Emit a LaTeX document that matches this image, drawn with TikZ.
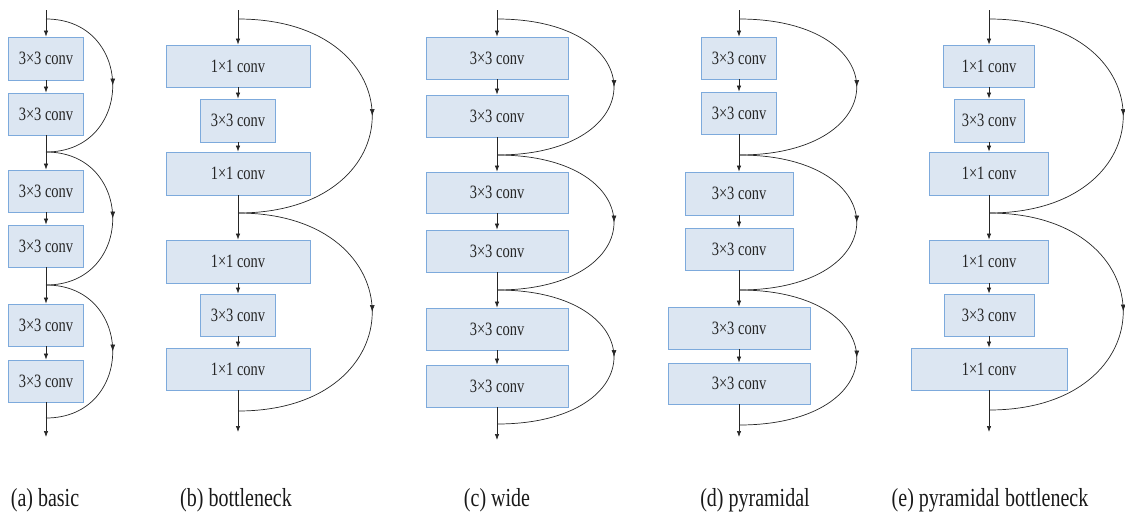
\documentclass[tikz,border=0pt]{standalone}
\usepackage{fontspec}
\setmainfont{Liberation Serif}
\usetikzlibrary{arrows.meta,decorations.markings}
\definecolor{boxfill}{RGB}{220,230,242}
\definecolor{boxline}{RGB}{125,170,220}
\newcommand\boxlabel[1]{\scalebox{1}[1.3]{#1}}
\newcommand\caplabel[1]{\scalebox{1}[1.3]{#1}}
\begin{document}
\begin{tikzpicture}[x=1pt,y=-1pt,
  cbox/.style={draw=boxline, fill=boxfill, line width=0.8pt, inner sep=0pt, font=\fontsize{14.5}{15}\selectfont, text=black!85},
  flow/.style={draw=black!85, line width=0.7pt},
  arr/.style={flow, -{Latex[length=6pt,width=4.5pt]}},
  skipline/.style={draw=black!85, line width=0.7pt, postaction={decorate},
    decoration={markings, mark=at position 0.5 with {\arrow{Latex[length=7pt,width=5pt]}}}},
  captext/.style={font=\fontsize{20}{20}\selectfont, text=black!90, inner sep=0pt}
]
\useasboundingbox (0,0) rectangle (1125,515);

% ---------- (a) basic ----------
\coordinate (atop) at (46,10);
\coordinate (ac0) at (46,19);
\coordinate (ac1) at (46,152);
\coordinate (ac2) at (46,285);
\coordinate (ac3) at (46,418);
\coordinate (aend) at (46,437);
\node[cbox, minimum width=75, minimum height=43] (a1) at (46,58.5) {\boxlabel{3×3 conv}};
\node[cbox, minimum width=75, minimum height=42] (a2) at (46,114) {\boxlabel{3×3 conv}};
\node[cbox, minimum width=75, minimum height=42] (a3) at (46,191) {\boxlabel{3×3 conv}};
\node[cbox, minimum width=75, minimum height=42] (a4) at (46,246) {\boxlabel{3×3 conv}};
\node[cbox, minimum width=75, minimum height=42] (a5) at (46,325) {\boxlabel{3×3 conv}};
\node[cbox, minimum width=75, minimum height=42] (a6) at (46,381) {\boxlabel{3×3 conv}};
\draw[arr] (atop) -- (a1);
\draw[arr] (a1) -- (a2);
\draw[flow] (a2) -- (ac1);
\draw[arr] (ac1) -- (a3);
\draw[arr] (a3) -- (a4);
\draw[flow] (a4) -- (ac2);
\draw[arr] (ac2) -- (a5);
\draw[arr] (a5) -- (a6);
\draw[flow] (a6) -- (ac3);
\draw[arr] (ac3) -- (aend);
\draw[skipline] (ac0) .. controls +(89,0) and +(89,0) .. (ac1);
\draw[skipline] (ac1) .. controls +(89,0) and +(89,0) .. (ac2);
\draw[skipline] (ac2) .. controls +(89,0) and +(89,0) .. (ac3);
\node[captext] (acap) at (45,500) {\caplabel{(a) basic}};

% ---------- (b) bottleneck ----------
\coordinate (btop) at (238,10);
\coordinate (bc0) at (238,19);
\coordinate (bc1) at (238,213);
\coordinate (bc2) at (238,411);
\coordinate (bend) at (238,432);
\node[cbox, minimum width=144, minimum height=42] (b1) at (238,66) {\boxlabel{1×1 conv}};
\node[cbox, minimum width=75, minimum height=43] (b2) at (238,120.5) {\boxlabel{3×3 conv}};
\node[cbox, minimum width=144, minimum height=43] (b3) at (238,173.5) {\boxlabel{1×1 conv}};
\node[cbox, minimum width=144, minimum height=43] (b4) at (238,261.5) {\boxlabel{1×1 conv}};
\node[cbox, minimum width=75, minimum height=42] (b5) at (238,315) {\boxlabel{3×3 conv}};
\node[cbox, minimum width=144, minimum height=42] (b6) at (238,369) {\boxlabel{1×1 conv}};
\draw[arr] (btop) -- (b1);
\draw[arr] (b1) -- (b2);
\draw[arr] (b2) -- (b3);
\draw[flow] (b3) -- (bc1);
\draw[arr] (bc1) -- (b4);
\draw[arr] (b4) -- (b5);
\draw[arr] (b5) -- (b6);
\draw[flow] (b6) -- (bc2);
\draw[arr] (bc2) -- (bend);
\draw[skipline] (bc0) .. controls +(179,0) and +(179,0) .. (bc1);
\draw[skipline] (bc1) .. controls +(179,0) and +(179,0) .. (bc2);
\node[captext] (bcap) at (236,500) {\caplabel{(b) bottleneck}};

% ---------- (c) wide ----------
\coordinate (ctop) at (497,10);
\coordinate (cc0) at (497,19);
\coordinate (cc1) at (497,155);
\coordinate (cc2) at (497,290);
\coordinate (cc3) at (497,424);
\coordinate (cend) at (497,440);
\node[cbox, minimum width=142, minimum height=42] (c1) at (497,58) {\boxlabel{3×3 conv}};
\node[cbox, minimum width=142, minimum height=42] (c2) at (497,116) {\boxlabel{3×3 conv}};
\node[cbox, minimum width=142, minimum height=41] (c3) at (497,192.5) {\boxlabel{3×3 conv}};
\node[cbox, minimum width=142, minimum height=42] (c4) at (497,251) {\boxlabel{3×3 conv}};
\node[cbox, minimum width=142, minimum height=42] (c5) at (497,329) {\boxlabel{3×3 conv}};
\node[cbox, minimum width=142, minimum height=42] (c6) at (497,386) {\boxlabel{3×3 conv}};
\draw[arr] (ctop) -- (c1);
\draw[arr] (c1) -- (c2);
\draw[flow] (c2) -- (cc1);
\draw[arr] (cc1) -- (c3);
\draw[arr] (c3) -- (c4);
\draw[flow] (c4) -- (cc2);
\draw[arr] (cc2) -- (c5);
\draw[arr] (c5) -- (c6);
\draw[flow] (c6) -- (cc3);
\draw[arr] (cc3) -- (cend);
\draw[skipline] (cc0) .. controls +(156,0) and +(156,0) .. (cc1);
\draw[skipline] (cc1) .. controls +(156,0) and +(156,0) .. (cc2);
\draw[skipline] (cc2) .. controls +(156,0) and +(156,0) .. (cc3);
\node[captext] (ccap) at (497,500) {\caplabel{(c) wide}};

% ---------- (d) pyramidal ----------
\coordinate (dtop) at (739,10);
\coordinate (dc0) at (739,19);
\coordinate (dc1) at (739,155);
\coordinate (dc2) at (739,290);
\coordinate (dc3) at (739,425);
\coordinate (dend) at (739,437);
\node[cbox, minimum width=75, minimum height=42] (d1) at (739,58) {\boxlabel{3×3 conv}};
\node[cbox, minimum width=75, minimum height=42] (d2) at (739,113) {\boxlabel{3×3 conv}};
\node[cbox, minimum width=108, minimum height=43] (d3) at (739,193.5) {\boxlabel{3×3 conv}};
\node[cbox, minimum width=108, minimum height=42] (d4) at (739,249) {\boxlabel{3×3 conv}};
\node[cbox, minimum width=142, minimum height=42] (d5) at (739,328) {\boxlabel{3×3 conv}};
\node[cbox, minimum width=142, minimum height=41] (d6) at (739,383.5) {\boxlabel{3×3 conv}};
\draw[arr] (dtop) -- (d1);
\draw[arr] (d1) -- (d2);
\draw[flow] (d2) -- (dc1);
\draw[arr] (dc1) -- (d3);
\draw[arr] (d3) -- (d4);
\draw[flow] (d4) -- (dc2);
\draw[arr] (dc2) -- (d5);
\draw[arr] (d5) -- (d6);
\draw[flow] (d6) -- (dc3);
\draw[arr] (dc3) -- (dend);
\draw[skipline] (dc0) .. controls +(157,0) and +(157,0) .. (dc1);
\draw[skipline] (dc1) .. controls +(157,0) and +(157,0) .. (dc2);
\draw[skipline] (dc2) .. controls +(157,0) and +(157,0) .. (dc3);
\node[captext] (dcap) at (755,500) {\caplabel{(d) pyramidal}};

% ---------- (e) pyramidal bottleneck ----------
\coordinate (etop) at (989,10);
\coordinate (ec0) at (989,19);
\coordinate (ec1) at (989,213);
\coordinate (ec2) at (989,410);
\coordinate (eend) at (989,432);
\node[cbox, minimum width=91, minimum height=42] (e1) at (989,66) {\boxlabel{1×1 conv}};
\node[cbox, minimum width=70, minimum height=43] (e2) at (989,120.5) {\boxlabel{3×3 conv}};
\node[cbox, minimum width=119, minimum height=43] (e3) at (989,173.5) {\boxlabel{1×1 conv}};
\node[cbox, minimum width=119, minimum height=43] (e4) at (989,261.5) {\boxlabel{1×1 conv}};
\node[cbox, minimum width=90, minimum height=42] (e5) at (989,315) {\boxlabel{3×3 conv}};
\node[cbox, minimum width=156, minimum height=42] (e6) at (989,369) {\boxlabel{1×1 conv}};
\draw[arr] (etop) -- (e1);
\draw[arr] (e1) -- (e2);
\draw[arr] (e2) -- (e3);
\draw[flow] (e3) -- (ec1);
\draw[arr] (ec1) -- (e4);
\draw[arr] (e4) -- (e5);
\draw[arr] (e5) -- (e6);
\draw[flow] (e6) -- (ec2);
\draw[arr] (ec2) -- (eend);
\draw[skipline] (ec0) .. controls +(179,0) and +(179,0) .. (ec1);
\draw[skipline] (ec1) .. controls +(179,0) and +(179,0) .. (ec2);
\node[captext] (ecap) at (990,500) {\caplabel{(e) pyramidal bottleneck}};
\end{tikzpicture}
\end{document}
